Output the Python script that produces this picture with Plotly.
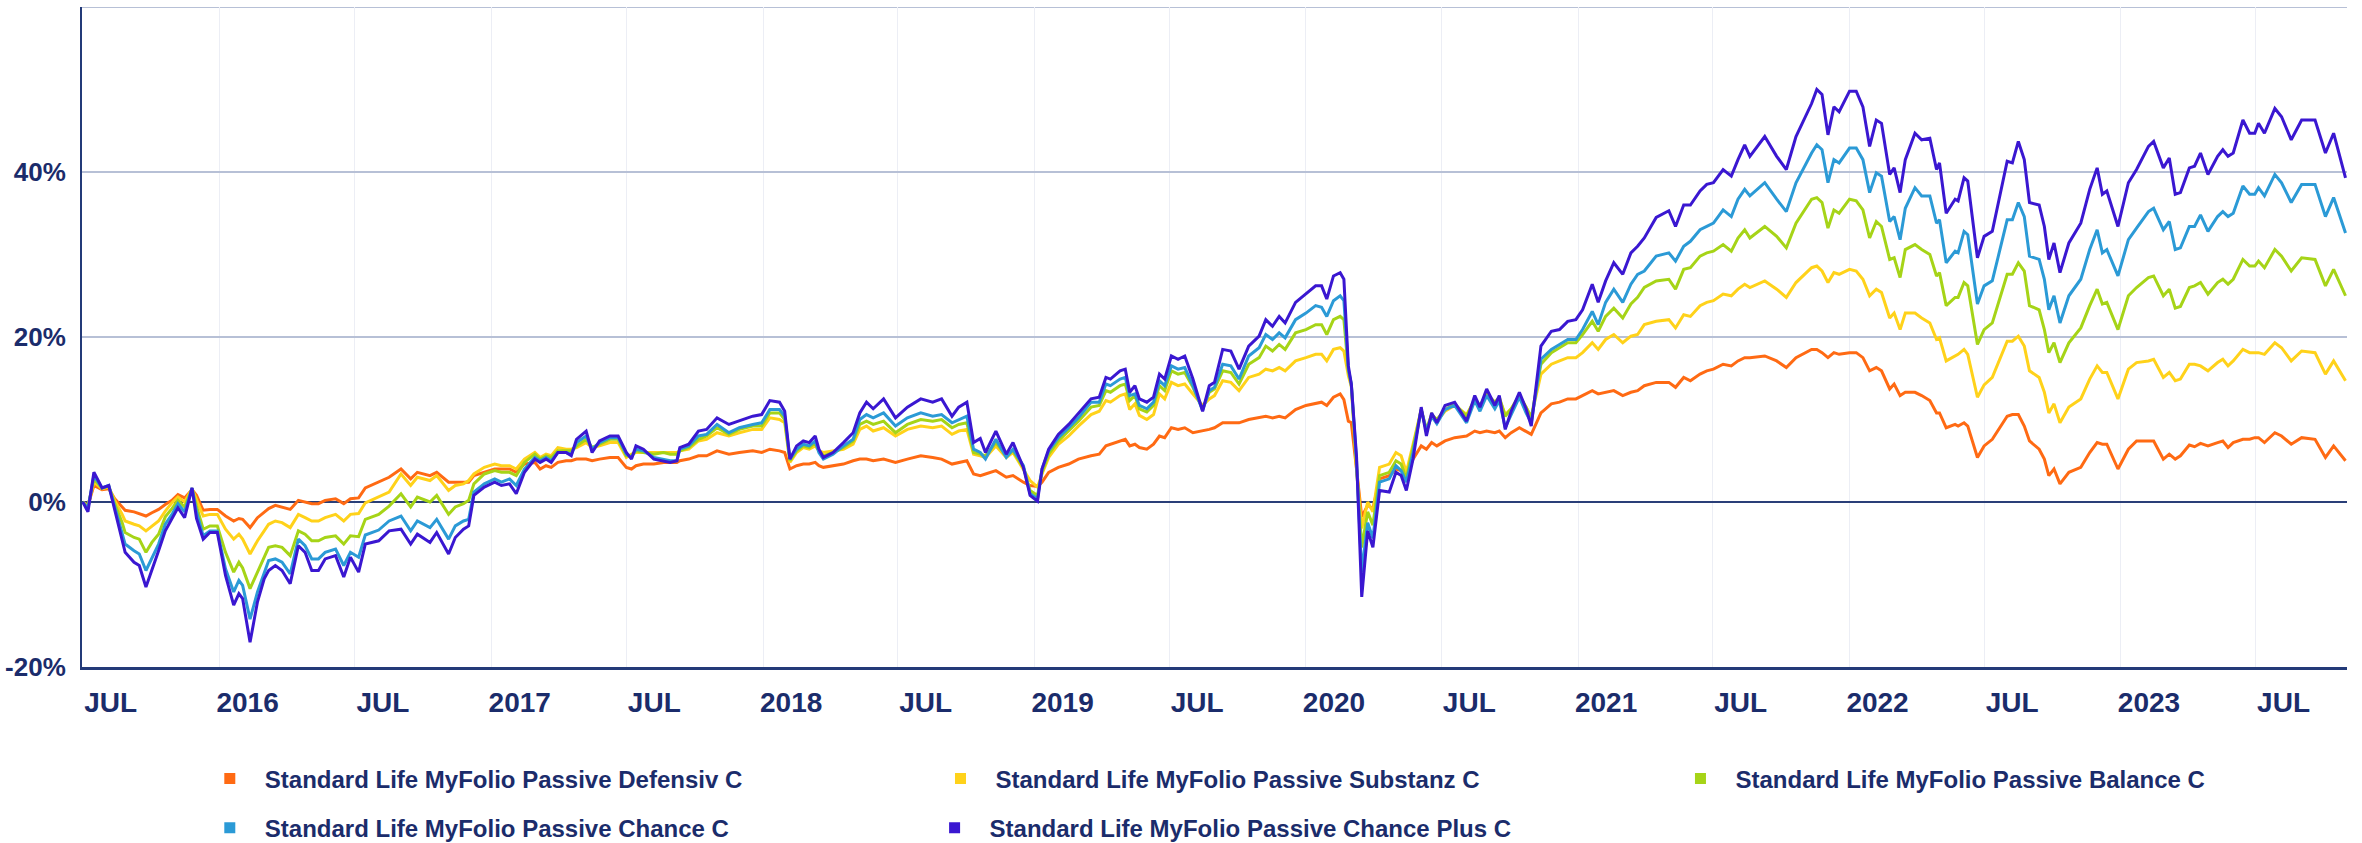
import plotly.graph_objects as go

dates = [
 "2015-07-01","2015-07-08","2015-07-16","2015-07-27","2015-08-05","2015-08-13","2015-08-23","2015-08-27",
 "2015-09-08","2015-09-15","2015-09-24","2015-10-02","2015-10-11","2015-10-20","2015-10-29","2015-11-06",
 "2015-11-15","2015-11-25","2015-12-01","2015-12-10","2015-12-19","2015-12-29",
 "2016-01-09","2016-01-20","2016-01-27","2016-02-01","2016-02-11","2016-02-21","2016-03-01","2016-03-07",
 "2016-03-16","2016-03-25","2016-04-05","2016-04-16","2016-04-25","2016-05-04","2016-05-13","2016-05-22",
 "2016-06-05","2016-06-16","2016-06-25","2016-07-06","2016-07-15","2016-08-02","2016-08-16","2016-09-01",
 "2016-09-14","2016-09-23","2016-10-10","2016-10-19","2016-11-04","2016-11-13","2016-11-24","2016-12-01",
 "2016-12-08","2016-12-22",
 "2017-01-05","2017-01-14","2017-01-25","2017-02-03","2017-02-14","2017-02-28","2017-03-07","2017-03-15",
 "2017-03-22","2017-03-31","2017-04-11","2017-04-18","2017-04-25","2017-05-08","2017-05-16","2017-05-26",
 "2017-06-09","2017-06-20","2017-07-01","2017-07-08","2017-07-14","2017-07-24","2017-08-07","2017-08-20",
 "2017-08-29","2017-09-07","2017-09-11","2017-09-23","2017-10-06","2017-10-17","2017-10-31","2017-11-16",
 "2017-11-30","2017-12-18","2017-12-30",
 "2018-01-10","2018-01-23","2018-01-30","2018-02-06","2018-02-15","2018-02-24","2018-03-04","2018-03-12",
 "2018-03-17","2018-03-23","2018-04-05","2018-04-19","2018-05-02","2018-05-11","2018-05-20","2018-05-29",
 "2018-06-12","2018-06-28","2018-07-14","2018-08-01","2018-08-17","2018-08-29","2018-09-12","2018-09-21",
 "2018-10-02","2018-10-11","2018-10-20","2018-10-27","2018-11-10","2018-11-24","2018-12-03","2018-12-17",
 "2018-12-26",
 "2019-01-05","2019-01-11","2019-01-20","2019-02-02","2019-02-16","2019-03-01","2019-03-18","2019-03-29",
 "2019-04-07","2019-04-13","2019-04-26","2019-05-03","2019-05-09","2019-05-16","2019-05-22","2019-06-01",
 "2019-06-10","2019-06-18","2019-06-25","2019-07-04","2019-07-13","2019-07-22","2019-08-02","2019-08-15",
 "2019-08-24","2019-08-31","2019-09-11","2019-09-22","2019-10-03","2019-10-16","2019-10-30","2019-11-08",
 "2019-11-17","2019-11-26","2019-12-04","2019-12-18",
 "2020-01-01","2020-01-14","2020-01-22","2020-01-29","2020-02-07","2020-02-16","2020-02-21","2020-02-27",
 "2020-03-02","2020-03-09","2020-03-16","2020-03-24","2020-03-31","2020-04-09","2020-04-22","2020-05-01",
 "2020-05-08","2020-05-15","2020-05-24","2020-06-04","2020-06-11","2020-06-18","2020-06-25","2020-07-06",
 "2020-07-19","2020-08-04","2020-08-15","2020-08-22","2020-08-31","2020-09-11","2020-09-17","2020-09-25",
 "2020-10-03","2020-10-14","2020-10-23","2020-10-30","2020-11-12","2020-11-26","2020-12-07","2020-12-18",
 "2020-12-29",
 "2021-01-07","2021-01-20","2021-01-28","2021-02-07","2021-02-18","2021-03-02","2021-03-13","2021-03-22",
 "2021-03-31","2021-04-16","2021-05-03","2021-05-12","2021-05-23","2021-06-01","2021-06-14","2021-06-23",
 "2021-07-02","2021-07-15","2021-07-26","2021-08-04","2021-08-13","2021-08-20","2021-09-09","2021-09-25",
 "2021-10-08","2021-10-21","2021-11-04","2021-11-11","2021-11-18","2021-11-25","2021-12-03","2021-12-11",
 "2021-12-18",
 "2022-01-01","2022-01-10","2022-01-19","2022-01-28","2022-02-06","2022-02-13","2022-02-24","2022-03-02",
 "2022-03-10","2022-03-17","2022-03-30","2022-04-08","2022-04-19","2022-04-28","2022-05-02","2022-05-11",
 "2022-05-23","2022-05-27","2022-06-04","2022-06-09","2022-06-22","2022-07-01","2022-07-12","2022-08-01",
 "2022-08-08","2022-08-16","2022-08-24","2022-08-31","2022-09-13","2022-09-20","2022-09-26","2022-10-03",
 "2022-10-11","2022-10-23","2022-11-08","2022-11-20","2022-11-30","2022-12-07","2022-12-13","2022-12-28",
 "2023-01-11","2023-01-22","2023-02-07","2023-02-14","2023-02-27","2023-03-07","2023-03-15","2023-03-22",
 "2023-04-03","2023-04-10","2023-04-18","2023-04-28","2023-05-11","2023-05-18","2023-05-25","2023-06-01",
 "2023-06-14","2023-06-23","2023-06-30","2023-07-05","2023-07-13","2023-07-27","2023-08-05","2023-08-18",
 "2023-09-01","2023-09-19","2023-10-03","2023-10-14","2023-10-30",
]

defensiv = [
 0.0,-0.4,2.0,1.5,1.6,0.4,-0.6,-1.0,
 -1.2,-1.4,-1.7,-1.3,-0.9,-0.3,0.2,0.9,
 0.5,1.5,0.8,-1.0,-0.9,-0.9,
 -1.7,-2.3,-2.0,-2.1,-3.1,-1.9,-1.2,-0.8,
 -0.4,-0.6,-0.9,0.2,0.0,-0.2,-0.2,0.2,
 0.4,-0.2,0.4,0.5,1.7,2.4,3.0,4.0,
 2.8,3.6,3.2,3.6,2.4,2.4,2.4,2.4,
 3.2,3.6,
 4.0,4.0,4.0,3.6,4.6,4.8,4.0,4.4,
 4.2,4.8,5.0,5.0,5.2,5.2,5.0,5.2,
 5.4,5.4,4.2,4.0,4.4,4.6,4.6,4.8,
 4.8,4.8,5.0,5.2,5.6,5.6,6.2,5.8,
 6.0,6.2,6.0,
 6.4,6.2,6.0,4.0,4.4,4.6,4.6,4.8,
 4.4,4.2,4.4,4.6,5.0,5.2,5.2,5.0,
 5.2,4.8,5.2,5.6,5.4,5.2,4.6,4.8,
 5.0,3.4,3.2,3.4,3.8,3.0,3.2,2.4,
 2.0,
 1.9,2.4,3.6,4.2,4.6,5.2,5.6,5.8,
 6.8,7.0,7.4,7.6,6.8,7.0,6.6,6.4,
 7.0,8.0,7.8,9.0,8.8,9.0,8.4,8.6,
 8.8,9.0,9.6,9.6,9.6,10.0,10.2,10.4,
 10.2,10.4,10.2,11.2,
 11.7,11.9,12.1,11.7,12.7,13.1,12.4,9.8,
 9.6,4.0,-1.8,-0.4,-0.8,2.8,3.2,4.0,
 3.8,3.2,5.2,6.8,6.4,7.2,6.8,7.4,
 7.8,8.0,8.6,8.4,8.6,8.4,8.6,7.8,
 8.4,9.0,8.6,8.2,10.8,11.9,12.1,12.5,
 12.5,
 12.9,13.5,13.1,13.3,13.5,12.9,13.3,13.5,
 14.1,14.5,14.5,13.9,15.1,14.7,15.5,15.9,
 16.1,16.7,16.5,17.1,17.5,17.5,17.7,17.1,
 16.3,17.5,18.1,18.5,18.5,18.1,17.5,18.1,
 17.9,
 18.1,18.1,17.5,15.9,16.3,15.9,13.7,14.3,
 12.9,13.3,13.3,12.9,12.3,10.8,10.8,9.0,
 9.4,9.2,9.6,9.2,5.4,6.8,7.6,10.4,
 10.6,10.6,9.2,7.4,6.4,5.2,3.2,4.0,
 2.2,3.6,4.2,6.0,7.2,7.0,7.0,4.0,
 6.4,7.4,7.4,7.4,5.2,5.8,5.2,5.6,
 6.9,6.7,7.1,6.8,7.2,7.4,6.6,7.2,
 7.6,7.6,7.8,7.8,7.2,8.4,8.0,7.0,
 7.8,7.6,5.4,6.8,5.0,
]

substanz = [
 0.0,-0.5,2.4,1.6,1.8,0.2,-1.5,-2.3,
 -2.7,-2.9,-3.5,-2.9,-2.3,-1.1,-0.1,0.6,
 0.0,1.6,0.3,-1.7,-1.5,-1.5,
 -3.3,-4.5,-3.9,-4.5,-6.3,-4.7,-3.5,-2.7,
 -2.3,-2.5,-3.1,-1.5,-1.9,-2.3,-2.3,-1.9,
 -1.5,-2.3,-1.5,-1.4,-0.1,0.6,1.2,3.4,
 2.0,3.0,2.6,3.2,1.4,2.0,2.2,2.6,
 3.4,4.2,
 4.6,4.4,4.4,4.0,5.2,6.0,5.4,5.8,
 5.6,6.6,6.4,6.4,6.6,7.2,6.6,6.8,
 7.2,7.2,5.4,5.8,6.0,6.0,6.0,6.0,
 6.0,6.0,6.2,6.4,7.4,7.6,8.4,8.0,
 8.4,8.8,8.8,
 10.2,10.0,9.6,4.8,6.0,6.6,6.4,6.8,
 6.2,6.0,6.2,6.4,7.0,8.8,9.2,8.6,
 9.0,8.0,8.8,9.2,9.0,9.2,8.2,8.6,
 8.8,5.8,5.6,5.4,6.8,5.4,6.0,4.0,
 2.6,
 1.8,3.4,5.4,7.0,8.0,9.2,10.6,11.0,
 12.3,12.1,12.9,13.1,11.2,11.9,10.5,10.0,
 10.6,13.1,12.5,14.5,14.1,14.3,13.1,11.7,
 12.5,12.9,14.7,14.5,13.5,15.1,15.5,16.1,
 15.9,16.3,15.9,17.1,
 17.5,17.9,17.9,17.1,18.5,18.7,18.3,15.3,
 14.0,4.0,-3.2,0.0,-1.2,4.2,4.6,6.0,
 5.6,3.6,7.0,11.2,8.6,10.6,9.8,11.0,
 11.7,10.6,12.3,11.5,12.9,11.9,12.5,10.6,
 11.3,12.9,11.5,10.3,15.5,16.7,17.1,17.5,
 17.5,
 18.1,19.3,18.5,19.7,20.3,19.3,20.1,20.3,
 21.5,21.9,22.1,21.1,22.7,22.5,23.8,24.2,
 24.4,25.2,25.0,25.8,26.4,26.0,26.8,25.8,
 24.8,26.6,27.8,28.4,28.6,28.0,26.6,27.8,
 27.6,
 28.2,28.0,27.0,25.0,25.8,25.4,22.3,22.9,
 20.9,22.9,22.9,22.3,21.7,19.7,19.9,17.1,
 17.7,17.9,18.5,17.9,12.7,14.2,15.1,19.5,
 19.5,20.1,18.9,15.9,15.1,13.3,10.8,11.9,
 9.6,11.5,12.5,14.9,16.5,15.7,15.7,12.5,
 16.1,16.9,17.1,17.3,15.1,15.7,14.7,14.9,
 16.7,16.7,16.5,15.9,16.9,17.3,16.5,17.1,
 18.5,18.1,18.1,18.1,17.9,19.3,18.7,17.1,
 18.3,18.1,15.5,17.1,14.7,
]

balance = [
 0.0,-0.6,2.8,1.7,1.9,-0.2,-2.5,-3.7,
 -4.3,-4.5,-6.1,-4.9,-3.9,-1.8,-0.8,0.2,
 -0.6,1.6,-0.5,-3.3,-2.9,-2.9,
 -6.1,-8.5,-7.3,-8.0,-10.5,-8.5,-6.7,-5.5,
 -5.3,-5.5,-6.5,-3.5,-3.9,-4.7,-4.7,-4.3,
 -4.1,-5.1,-4.1,-4.2,-2.1,-1.5,-0.5,1.0,
 -0.6,0.6,0.0,0.8,-1.5,-0.6,-0.2,0.2,
 2.2,3.4,
 3.8,3.6,3.6,3.2,4.8,5.8,5.2,5.6,
 5.4,6.2,6.2,6.2,6.8,7.6,6.6,7.0,
 7.6,7.6,5.6,5.6,6.2,6.0,5.8,6.0,
 5.8,5.8,6.2,6.6,7.6,8.0,9.0,8.2,
 8.8,9.2,9.2,
 10.8,10.8,10.0,5.0,6.2,6.8,6.6,7.2,
 6.2,5.6,6.0,6.6,7.4,9.4,9.8,9.4,
 9.8,8.4,9.4,10.0,9.8,10.0,9.0,9.4,
 9.6,6.0,5.8,5.6,7.2,5.6,6.2,4.2,
 1.4,
 0.8,3.6,5.8,7.4,8.6,9.8,11.5,11.7,
 13.5,13.3,14.1,14.3,12.3,12.9,11.3,10.9,
 11.7,14.1,13.5,15.9,15.5,15.7,13.9,11.3,
 13.3,13.7,15.9,15.7,14.3,16.7,17.5,18.9,
 18.3,19.1,18.5,20.5,
 20.9,21.5,21.5,20.3,22.1,22.5,22.1,15.9,
 14.2,4.5,-5.5,-1.2,-2.8,3.2,3.6,5.0,
 4.6,2.8,6.4,11.2,8.8,10.6,10.0,11.2,
 11.9,10.4,12.5,11.7,13.1,12.1,12.7,10.4,
 11.3,12.9,11.5,10.2,16.7,18.1,18.7,19.3,
 19.3,
 20.3,21.9,20.7,22.5,23.5,22.3,24.0,24.8,
 26.0,26.8,27.0,25.8,28.2,28.4,29.8,30.2,
 30.4,31.2,30.4,32.0,33.0,32.0,33.4,32.2,
 30.8,33.8,35.8,36.7,36.9,36.3,33.2,35.4,
 35.0,
 36.7,36.5,35.4,32.0,34.0,33.4,29.4,29.6,
 27.2,30.6,31.2,30.6,30.0,27.4,27.8,23.8,
 24.8,24.8,26.6,26.2,19.1,20.9,21.7,27.6,
 27.6,29.0,28.0,23.8,23.3,20.9,18.1,19.3,
 16.9,19.3,21.1,23.8,25.8,24.0,24.2,20.9,
 25.0,26.0,27.2,27.4,25.0,25.8,23.5,23.7,
 26.0,26.2,26.6,25.2,26.6,27.0,26.4,27.0,
 29.4,28.6,28.6,29.2,28.4,30.6,29.8,28.0,
 29.6,29.4,26.2,28.2,25.0,
]

chance = [
 0.0,-0.8,3.2,1.7,2.0,-0.6,-3.7,-5.1,
 -5.9,-6.3,-8.3,-6.7,-5.1,-2.7,-1.5,-0.2,
 -1.2,1.7,-1.2,-4.1,-3.5,-3.5,
 -8.1,-10.9,-9.5,-10.1,-14.2,-10.9,-8.5,-7.1,
 -6.9,-7.3,-8.7,-4.5,-5.3,-6.9,-6.9,-6.1,
 -5.7,-7.7,-6.1,-6.7,-4.0,-3.4,-2.3,-1.7,
 -3.5,-2.3,-3.1,-2.1,-4.5,-2.9,-2.3,-2.1,
 1.2,2.2,
 2.8,2.4,2.8,2.0,4.0,5.4,5.0,5.4,
 5.0,6.0,6.0,5.8,7.2,8.0,6.4,7.2,
 7.8,7.8,5.8,5.4,6.4,6.2,5.4,5.2,
 5.0,5.0,6.4,6.8,8.0,8.2,9.4,8.4,
 9.0,9.4,9.6,
 11.2,11.2,10.4,5.2,6.4,7.0,6.8,7.4,
 6.0,5.2,5.8,6.8,7.6,10.0,10.6,10.2,
 10.8,9.2,10.2,10.8,10.4,10.6,9.6,10.0,
 10.4,6.4,6.0,5.2,7.6,5.4,6.4,4.4,
 1.0,
 0.4,4.0,6.2,7.8,9.0,10.2,12.1,12.1,
 14.3,14.1,14.9,15.1,12.9,13.1,11.7,11.3,
 12.1,14.7,14.1,16.5,16.1,16.3,14.1,11.1,
 13.5,13.9,16.7,16.5,14.9,17.7,18.7,20.3,
 19.7,20.5,19.9,22.1,
 22.9,23.8,23.6,22.5,24.4,25.0,24.4,16.1,
 14.3,5.0,-8.5,-2.5,-4.4,2.4,2.8,4.4,
 3.8,2.4,6.0,11.2,8.6,10.4,9.5,11.2,
 11.7,9.6,12.3,11.0,12.9,11.3,12.3,9.0,
 10.6,12.7,10.8,9.6,17.3,18.5,19.1,19.7,
 19.7,
 20.9,23.1,21.5,24.2,25.8,24.2,26.4,27.6,
 28.0,29.8,30.2,29.2,31.0,31.6,33.0,33.4,
 33.8,35.4,34.6,36.7,37.9,37.1,38.7,36.7,
 35.2,38.7,41.1,42.3,43.3,42.7,38.7,41.5,
 41.1,
 42.9,42.9,41.5,37.5,39.9,39.5,34.0,34.6,
 31.8,35.6,38.1,37.1,37.1,33.8,34.2,29.0,
 30.4,30.2,32.8,32.4,24.0,26.2,26.8,34.2,
 34.2,36.3,34.6,29.8,29.4,27.0,23.3,25.0,
 21.7,25.0,27.0,30.6,33.0,30.2,30.6,27.4,
 31.8,33.2,35.2,35.6,33.0,34.0,30.6,30.8,
 33.4,33.4,34.8,32.8,34.6,35.2,34.6,35.0,
 38.3,37.3,37.3,38.1,37.1,39.7,38.7,36.3,
 38.5,38.5,34.6,36.9,32.6,
]

chance_plus = [
 0.0,-1.2,3.6,1.7,2.0,-1.0,-4.9,-6.1,
 -7.3,-7.7,-10.3,-8.3,-5.9,-3.5,-2.1,-0.7,
 -1.9,1.7,-2.0,-4.5,-3.7,-3.7,
 -8.9,-12.5,-11.1,-11.7,-17.0,-12.1,-9.3,-8.3,
 -7.7,-8.3,-9.9,-5.3,-6.1,-8.3,-8.3,-6.9,
 -6.5,-9.1,-6.7,-8.5,-5.1,-4.7,-3.5,-3.3,
 -5.1,-3.9,-4.9,-3.7,-6.3,-4.3,-3.3,-2.9,
 0.8,1.8,
 2.4,2.0,2.2,1.0,3.6,5.2,4.8,5.2,
 4.8,6.0,6.0,5.6,7.6,8.6,6.0,7.4,
 8.0,8.0,6.0,5.2,6.8,6.4,5.2,5.0,
 4.8,5.0,6.6,7.0,8.6,8.8,10.2,9.4,
 9.8,10.4,10.6,
 12.3,12.1,11.0,5.2,6.8,7.4,7.2,8.0,
 6.4,5.4,6.0,7.2,8.4,10.8,12.1,11.3,
 12.5,10.2,11.5,12.5,12.1,12.5,10.4,11.5,
 12.1,7.2,7.7,6.0,8.6,5.8,7.2,4.2,
 0.8,
 0.1,4.0,6.4,8.2,9.4,10.8,12.5,12.7,
 15.1,14.9,15.9,16.1,13.3,14.1,12.5,12.1,
 12.7,15.5,14.9,17.7,17.3,17.7,14.9,11.0,
 14.1,14.5,18.5,18.3,16.1,18.9,20.1,22.1,
 21.3,22.5,21.7,24.2,
 25.2,26.2,26.2,24.6,27.4,27.8,27.0,16.5,
 14.3,5.5,-11.5,-3.5,-5.5,1.4,1.2,3.6,
 3.2,1.4,5.2,11.5,8.0,10.8,9.6,11.7,
 12.1,9.8,12.9,11.5,13.7,11.7,12.9,8.8,
 11.0,13.3,11.3,9.2,18.9,20.7,20.9,21.9,
 22.1,
 23.3,26.4,24.2,26.8,29.0,27.6,30.2,31.0,
 32.0,34.5,35.3,33.4,36.0,36.0,37.7,38.5,
 38.7,40.3,39.5,41.5,43.3,41.9,44.3,41.9,
 40.3,44.3,47.1,48.3,50.0,49.4,44.5,47.9,
 47.3,
 49.8,49.8,47.9,43.1,46.3,45.9,39.7,40.5,
 37.5,41.5,44.7,43.9,44.1,40.3,41.1,35.0,
 36.7,36.5,39.3,38.9,29.6,32.2,32.8,41.3,
 41.1,43.7,41.5,36.3,36.0,33.4,29.4,31.4,
 27.8,31.4,33.8,37.9,40.5,37.3,37.7,33.4,
 38.7,40.3,43.1,43.7,40.5,41.7,37.3,37.5,
 40.5,40.7,42.3,39.7,41.9,42.7,41.9,42.3,
 46.3,44.7,44.7,45.9,44.7,47.7,46.7,43.9,
 46.3,46.3,42.3,44.7,39.3,
]

names = [
 "Standard Life MyFolio Passive Defensiv C",
 "Standard Life MyFolio Passive Substanz C",
 "Standard Life MyFolio Passive Balance C",
 "Standard Life MyFolio Passive Chance C",
 "Standard Life MyFolio Passive Chance Plus C",
]
colors = ["#ff6a13", "#ffd21a", "#a6d417", "#2b9ad6", "#3a17d1"]
series = [defensiv, substanz, balance, chance, chance_plus]

x_tickvals = ["2015-07-01"] + [f"{y}-{m}-01" for y in range(2016, 2024) for m in ("01", "07")]
x_ticktext = ["JUL"] + [lab for y in range(2016, 2024) for lab in (str(y), "JUL")]
y_tickvals = [-20, 0, 20, 40, 60]
y_ticktext = ["-20%", "0%", "20%", "40%", ""]

NAVY = "#1b2c6b"
FONT = "Liberation Sans, Arial, sans-serif"

fig = go.Figure()
for name, col, vals in zip(names, colors, series):
    fig.add_trace(go.Scatter(x=dates, y=vals, mode="lines", name=name,
                             line=dict(color=col, width=3), showlegend=False,
                             hoverinfo="skip"))

# legend entries (square swatches), one legend box per entry
legend_ids = ["legend", "legend2", "legend3", "legend4", "legend5"]
for name, col, lg in zip(names, colors, legend_ids):
    fig.add_trace(go.Scatter(x=[None], y=[None], mode="markers", name=name,
                             marker=dict(symbol="square", size=11, color=col),
                             legend=lg, showlegend=True, hoverinfo="skip"))

legend_pos = {  # (x, y) in paper coordinates
    "legend": (0.0498, -0.1697),
    "legend2": (0.3724, -0.1697),
    "legend3": (0.6991, -0.1697),
    "legend4": (0.0498, -0.2440),
    "legend5": (0.3698, -0.2440),
}
legend_layout = {}
for lg, (lx, ly) in legend_pos.items():
    legend_layout[lg] = dict(orientation="h", xref="paper", yref="paper",
                             x=lx, y=ly, xanchor="left", yanchor="middle",
                             itemwidth=60, bgcolor="rgba(0,0,0,0)",
                             font=dict(family=FONT, size=24, color=NAVY,
                                       weight="bold"))

fig.update_layout(
    width=2362, height=843,
    margin=dict(l=82, r=15, t=7, b=176, autoexpand=False),
    paper_bgcolor="white", plot_bgcolor="white",
    **legend_layout,
    xaxis=dict(type="date", range=["2015-06-30", "2023-11-01"],
               tickmode="array", tickvals=x_tickvals, ticktext=x_ticktext,
               showgrid=True, gridcolor="#eceef5", gridwidth=1,
               showline=True, linecolor="#233a78", linewidth=3,
               ticks="", ticklabelshift=28, ticklabelstandoff=8,
               automargin=False,
               tickfont=dict(family=FONT, size=28, color=NAVY, weight="bold"),
               zeroline=False),
    yaxis=dict(range=[-20, 60], tickmode="array", tickvals=y_tickvals,
               ticktext=y_ticktext, showgrid=True, gridcolor="#b7c0d6",
               gridwidth=2, zeroline=True, zerolinecolor="#2a3f78",
               zerolinewidth=2, showline=True, linecolor="#233a78",
               linewidth=2, ticks="", ticklabelstandoff=9, automargin=False,
               tickfont=dict(family=FONT, size=26, color=NAVY, weight="bold")),
    shapes=[dict(type="line", xref="paper", yref="y", x0=0, x1=1, y0=60, y1=60,
                 line=dict(color="#b7c0d6", width=2), layer="below")],
)

# remove the browser's default 8px page margin so the figure sits at (0, 0)
fig.write_html("out.html", config={"displayModeBar": False},
               post_script="document.body.style.margin='0';")
